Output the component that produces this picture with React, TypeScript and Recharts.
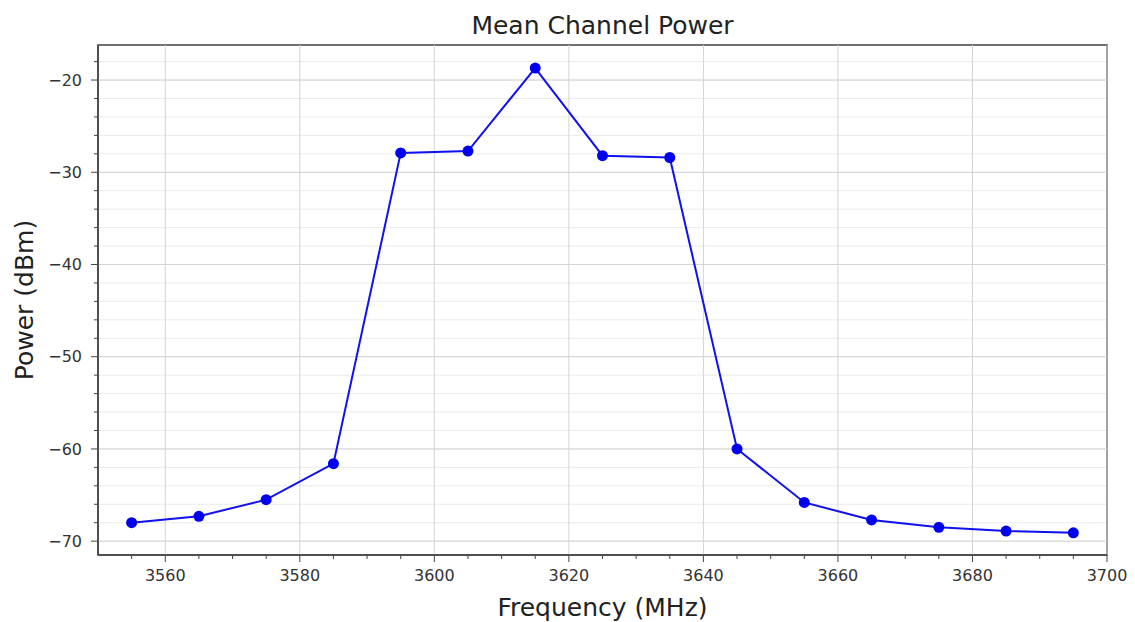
import React from 'react';
import { LineChart, Line, XAxis, YAxis, CartesianGrid, ReferenceArea, ReferenceLine } from 'recharts';

const frequencies = [3555, 3565, 3575, 3585, 3595, 3605, 3615, 3625, 3635, 3645, 3655, 3665, 3675, 3685, 3695];
const powerDbm = [-68.0, -67.3, -65.5, -61.6, -27.9, -27.7, -18.7, -28.2, -28.4, -60.0, -65.8, -67.7, -68.5, -68.9, -69.1];

const xMajorTicks = [3560, 3580, 3600, 3620, 3640, 3660, 3680, 3700];
const xMinorTicks = [3555, 3560, 3565, 3570, 3575, 3580, 3585, 3590, 3595, 3600, 3605, 3610, 3615, 3620, 3625, 3630, 3635, 3640, 3645, 3650, 3655, 3660, 3665, 3670, 3675, 3680, 3685, 3690, 3695, 3700];
const yMajorTicks = [-70, -60, -50, -40, -30, -20];
const yMinorTicks = [-70, -68, -66, -64, -62, -60, -58, -56, -54, -52, -50, -48, -46, -44, -42, -40, -38, -36, -34, -32, -30, -28, -26, -24, -22, -20, -18];

const xDomain: [number, number] = [3550, 3700];
const yDomain: [number, number] = [-71.5, -16.2];

const data = frequencies.map((f, i) => ({ freq: f, power: powerDbm[i] }));

const FONT = '"DejaVu Sans", sans-serif';
const labelStyle = { fill: '#222', fontSize: 25, fontFamily: FONT };
const TICK_COLOR = '#444';
const MAJOR_GRID = '#d4d4d4';

// draws major (long + label) and minor (short) ticks from one axis
const XTick = (props: any) => {
  const { x, y, payload } = props;
  const major = xMajorTicks.includes(payload.value);
  const len = major ? 7 : 4;
  return (
    <g>
      <line x1={x} x2={x} y1={y} y2={y + len} stroke={TICK_COLOR} />
      {major && (
        <text x={x} y={y + len + 8} dy="0.71em" textAnchor="middle" fill="#333" fontSize={16} fontFamily={FONT}>
          {payload.value}
        </text>
      )}
    </g>
  );
};

const YTick = (props: any) => {
  const { x, y, payload } = props;
  const major = yMajorTicks.includes(payload.value);
  const len = major ? 7 : 4;
  return (
    <g>
      <line x1={x - len} x2={x} y1={y} y2={y} stroke={TICK_COLOR} />
      {major && (
        <text x={x - len - 9} y={y} dy="0.355em" textAnchor="end" fill="#333" fontSize={16} fontFamily={FONT}>
          {String(payload.value).replace('-', '\u2212')}
        </text>
      )}
    </g>
  );
};

export default function App() {
  return (
    <div style={{ position: 'absolute', left: 0, top: 0, width: 1135, height: 622, background: '#fff' }}>
      <div
        style={{
          position: 'absolute',
          left: 98,
          width: 1009,
          top: 11,
          textAlign: 'center',
          fontFamily: FONT,
          fontSize: 25,
          color: '#222',
          lineHeight: '30px',
        }}
      >
        Mean Channel Power
      </div>
      <LineChart width={1135} height={622} data={data} margin={{ top: 45, right: 28, left: 0, bottom: 0 }}>
        <XAxis
          type="number"
          dataKey="freq"
          domain={xDomain}
          ticks={xMinorTicks}
          interval={0}
          allowDataOverflow
          height={67}
          tickSize={0}
          tickMargin={0}
          tickLine={false}
          tick={XTick}
          axisLine={{ stroke: '#444', strokeWidth: 1.5 }}
          label={{ value: 'Frequency (MHz)', position: 'insideBottom', offset: 6, style: labelStyle }}
        />
        <YAxis
          type="number"
          domain={yDomain}
          ticks={yMinorTicks}
          interval={0}
          allowDataOverflow
          width={98}
          tickSize={0}
          tickMargin={0}
          tickLine={false}
          tick={YTick}
          axisLine={{ stroke: '#444', strokeWidth: 1.5 }}
          label={{ value: 'Power (dBm)', angle: -90, position: 'insideLeft', offset: 24, style: { ...labelStyle, textAnchor: 'middle' } }}
        />
        <CartesianGrid vertical={false} stroke="#ebebeb" strokeWidth={1} />
        {yMajorTicks.map((v) => (
          <ReferenceLine key={'y' + v} y={v} stroke={MAJOR_GRID} strokeWidth={1} />
        ))}
        {xMajorTicks.map((v) => (
          <ReferenceLine key={'x' + v} x={v} stroke={MAJOR_GRID} strokeWidth={1} />
        ))}
        <ReferenceArea
          x1={xDomain[0]}
          x2={xDomain[1]}
          y1={yDomain[0]}
          y2={yDomain[1]}
          fill="none"
          stroke="#444"
          strokeWidth={1.5}
        />
        <Line
          type="linear"
          dataKey="power"
          stroke="#1010f0"
          strokeWidth={2}
          dot={{ r: 5.5, fill: '#0000ee', stroke: '#0000ee', strokeWidth: 0 }}
          isAnimationActive={false}
        />
      </LineChart>
    </div>
  );
}
